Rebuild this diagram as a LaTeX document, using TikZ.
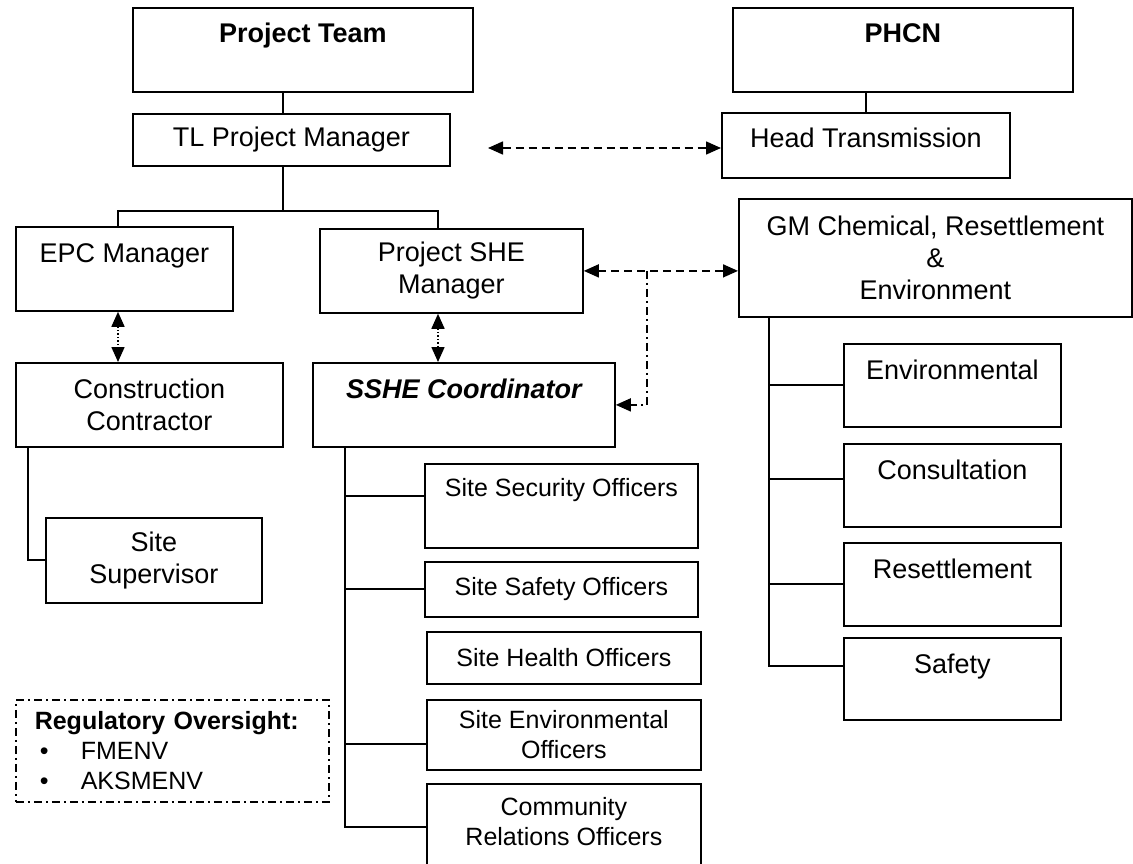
\documentclass[tikz,border=0pt]{standalone}
\usepackage{fontspec}
\setmainfont{Liberation Sans}
\usetikzlibrary{arrows.meta, positioning, calc}
\newcommand{\orgfontbig}{\fontsize{27}{32}\selectfont}
\newcommand{\orgfontsmall}{\fontsize{25}{30}\selectfont}

\begin{document}
\begin{tikzpicture}[
  x=1pt, y=-1pt,
  >={Triangle[length=15pt, width=13pt]},
  box/.style={rectangle, draw=black, line width=1.8pt, anchor=north west,
              inner sep=0pt, align=center, font=\orgfontbig},
  officer/.style={box, font=\orgfontsmall},
  toptext/.style={label={[anchor=base, yshift=-36pt, font=\orgfontbig]north:#1}},
  toptextsmall/.style={label={[anchor=base, yshift=-33pt, font=\orgfontsmall]north:#1}},
  link/.style={draw=black, line width=2pt},
  dasharr/.style={<->, draw=black, line width=1.6pt, dash pattern=on 8pt off 5pt},
  dotarr/.style={<->, draw=black, line width=1.6pt, dash pattern=on 1.5pt off 2pt},
  dotdash/.style={draw=black, line width=1.6pt, dash pattern=on 8pt off 4pt on 2pt off 4pt},
]
  \path[use as bounding box, fill=white] (0,0) rectangle (1133,864);
  \clip (0,0) rectangle (1133,864);

  % Top level
  \node[box, minimum width=340, minimum height=84, toptext={\bfseries Project Team}] (team) at (132,7) {};
  \node[box, minimum width=340, minimum height=84, toptext={\bfseries PHCN}] (phcn) at (732,7) {};
  \node[box, minimum width=317, minimum height=52] (tlpm) at (132,113) {TL Project Manager};
  \node[box, minimum width=288, minimum height=65, toptext={Head Transmission}] (head) at (721,112) {};

  % Managers
  \node[box, minimum width=217, minimum height=84, toptext={EPC Manager}] (epc) at (15,226) {};
  \node[box, minimum width=263, minimum height=84] (she) at (319,228) {Project SHE\\Manager};
  \node[box, minimum width=393, minimum height=118] (gm) at (738,198) {GM Chemical, Resettlement\\\&\\Environment};
  \node[box, minimum width=267, minimum height=84] (cc) at (15,362) {Construction\\Contractor};
  \node[box, minimum width=302, minimum height=84, toptext={\bfseries\itshape SSHE Coordinator}] (sshe) at (312,362) {};
  \node[box, minimum width=216, minimum height=85] (sup) at (45,517) {Site\\Supervisor};

  % Site officers
  \node[officer, minimum width=273, minimum height=84, toptextsmall={Site Security Officers}] (sec) at (424,463) {};
  \node[officer, minimum width=273, minimum height=55] (saf) at (424,561) {Site Safety Officers};
  \node[officer, minimum width=274, minimum height=52] (hea) at (426,631) {Site Health Officers};
  \node[officer, minimum width=274, minimum height=70] (env) at (426,699) {Site Environmental\\Officers};
  \node[officer, minimum width=274, minimum height=86, text depth=10pt] (cro) at (426,783) {Community\\Relations Officers};

  % GM units
  \node[box, minimum width=217, minimum height=83, toptext={Environmental}] (envr) at (843,343) {};
  \node[box, minimum width=217, minimum height=83, toptext={Consultation}] (cons) at (843,443) {};
  \node[box, minimum width=217, minimum height=83, toptext={Resettlement}] (res) at (843,542) {};
  \node[box, minimum width=217, minimum height=82, toptext={Safety}] (sft) at (843,637) {};

  % Oversight
  \node[box, dotdash, minimum width=313, minimum height=102, text width=275pt, align=left,
        font=\orgfontsmall] (reg) at (15,699)
    {\textbf{Regulatory Oversight:}\\
     \makebox[46pt][l]{\hspace*{5pt}\textbullet}FMENV\\
     \makebox[46pt][l]{\hspace*{5pt}\textbullet}AKSMENV};

  % Line columns
  \coordinate (colA) at (283,0);
  \coordinate (colE) at (118,0);
  \coordinate (colS) at (438,0);
  \coordinate (colC) at (28,0);
  \coordinate (colT) at (345,0);
  \coordinate (colG) at (769,0);
  \coordinate (colD) at (647,0);
  \coordinate (busY) at (0,211);
  \coordinate (tipA) at (488,148);

  % Reporting lines
  \draw[link] (team.south -| colA) -- (tlpm.north -| colA);
  \draw[link] (phcn.south -| head.north) -- (head.north);
  \draw[link] (tlpm.south -| colA) |- (busY -| colE) -- (epc.north -| colE);
  \draw[link] (busY -| colA) -| (she.north -| colS);
  \draw[link] (cc.south -| colC) |- (sup.west);

  % SSHE officers
  \draw[link] (sshe.south -| colT) |- (cro.west);
  \draw[link] ([yshift=10pt]sec.west) -- ([yshift=10pt]sec.west -| colT);
  \draw[link] (saf.west) -- (saf.west -| colT);
  \draw[link] ([yshift=-9pt]env.west) -- ([yshift=-9pt]env.west -| colT);

  % GM units
  \draw[link] (gm.south -| colG) |- ([yshift=13pt]sft.west);
  \draw[link] (envr.west) -- (envr.west -| colG);
  \draw[link] ([yshift=6pt]cons.west) -- ([yshift=6pt]cons.west -| colG);
  \draw[link] (res.west) -- (res.west -| colG);

  % Liaison arrows
  \draw[dasharr] (tipA) -- (tipA -| head.west);
  \draw[dasharr] (she.east) -- (she.east -| gm.west);
  \draw[dotarr] (epc.south -| colE) -- (cc.north -| colE);
  \draw[dotarr] (she.south -| colS) -- (sshe.north -| colS);
  \draw[dotdash, ->] (she.east -| colD) |- (sshe.east);

\end{tikzpicture}
\end{document}
